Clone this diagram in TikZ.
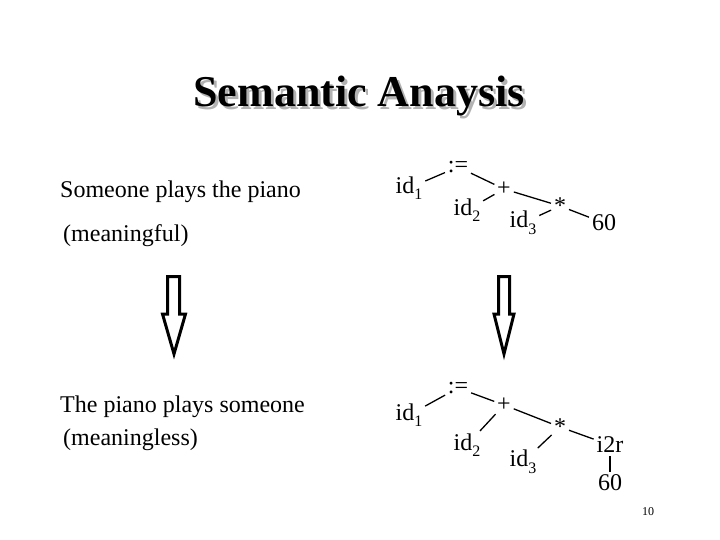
\documentclass[tikz,border=0pt]{standalone}
\usepackage{fontspec}
\setmainfont{Liberation Serif}
\usetikzlibrary{positioning}
\newcommand{\lowsub}[1]{\raisebox{-0.6ex}{\fontsize{16}{16}\selectfont #1}}
\tikzset{
  sent/.style={anchor=west,inner sep=0pt,font=\fontsize{24}{28}\selectfont},
  leaf/.style={inner sep=0pt,font=\fontsize{24}{28}\selectfont},
  edge/.style={line width=1.3pt,shorten >=3pt,shorten <=3pt},
  bigarrow/.style={line width=3pt,line join=miter}
}

\begin{document}
\begin{tikzpicture}[x=1pt,y=-1pt]
\useasboundingbox (0,0) rectangle (720,540);
\node[font=\fontsize{44}{50}\selectfont\bfseries,text=black!30] (titleshadow) at (362,99) {Semantic Anaysis};
\node[font=\fontsize{44}{50}\selectfont\bfseries] (title) at (359,96) {Semantic Anaysis};
\node[sent] (meaning) at (60,192) {Someone plays the piano};
\node[sent] (meaningful) at (63,236) {(meaningful)};
\node[sent] (nomeaning) at (60,407) {The piano plays someone};
\node[sent] (meaningless) at (63,440) {(meaningless)};
% syntax tree
\node[leaf] (asga) at (458,167) {:=};
\node[leaf] (ida) at (409,188) {id\lowsub{1}};
\node[leaf] (plusa) at (504,189) {+};
\node[leaf] (idb) at (467,210) {id\lowsub{2}};
\node[leaf] (mula) at (560,206) {*};
\node[leaf] (idc) at (523,223) {id\lowsub{3}};
\node[leaf] (sixa) at (604,223) {60};
\draw[edge] (ida) -- (asga);
\draw[edge] (asga) -- (plusa);
\draw[edge] (idb) -- (plusa);
\draw[edge] (plusa) -- (mula);
\draw[edge] (idc) -- (mula);
\draw[edge] (mula) -- (sixa);
% annotated tree
\node[leaf] (asgb) at (458,388) {:=};
\node[leaf] (idd) at (409,415) {id\lowsub{1}};
\node[leaf] (plusb) at (504,405) {+};
\node[leaf] (ide) at (467,445) {id\lowsub{2}};
\node[leaf] (mulb) at (560,427) {*};
\node[leaf] (idf) at (523,462) {id\lowsub{3}};
\node[leaf] (conv) at (610,445) {i2r};
\node[leaf] (sixb) at (610,483) {60};
\draw[edge] (idd) -- (asgb);
\draw[edge] (asgb) -- (plusb);
\draw[edge] (ide) -- (plusb);
\draw[edge] (plusb) -- (mulb);
\draw[edge] (idf) -- (mulb);
\draw[edge] (mulb) -- (conv);
\draw[edge] (conv) -- (sixb);
% down arrows
\draw[bigarrow] (167.5,276.5) -- (179.5,276.5) -- (179.5,314) -- (185.5,314) -- (174,354) -- (162.5,314) -- (167.5,314) -- cycle;
\draw[bigarrow] (498.5,276.5) -- (509.5,276.5) -- (509.5,314) -- (514,314) -- (504,354) -- (494,314) -- (498.5,314) -- cycle;
\node[font=\fontsize{12}{14}\selectfont] (pagenum) at (648,512) {10};
\end{tikzpicture}
\end{document}
